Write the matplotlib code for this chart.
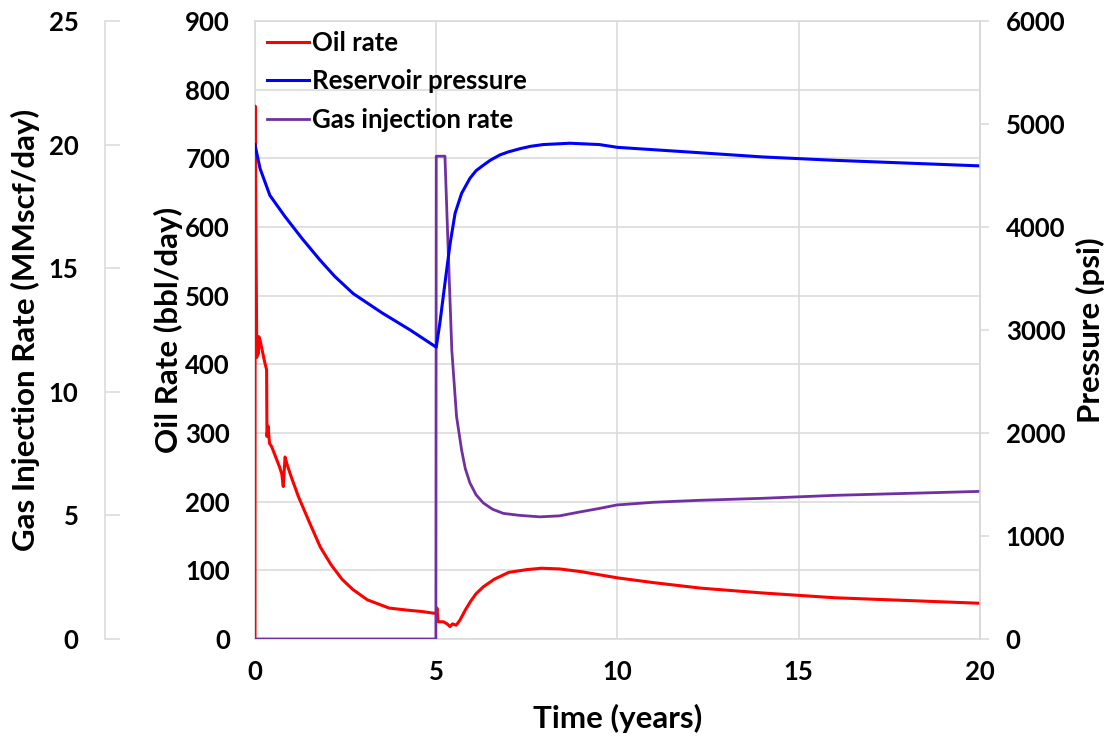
"""
Oil rate, reservoir pressure and gas injection rate vs time (three y-axes).
"""
import numpy as np
import matplotlib
matplotlib.use("Agg")
import matplotlib.pyplot as plt

plt.rcParams['font.family'] = ['Lato', 'DejaVu Sans']
plt.rcParams['font.weight'] = 'bold'

# Oil rate (bbl/day)
t_oil = [0, 0.005, 0.03, 0.05, 0.07, 0.09, 0.11, 0.14, 0.2, 0.26, 0.32, 0.33, 0.36,
         0.40, 0.46, 0.52, 0.6, 0.68, 0.74, 0.78, 0.8, 0.83, 0.88, 1.0, 1.2, 1.5,
         1.8, 2.1, 2.4, 2.7, 3.1, 3.7, 4.2, 4.6, 5.0, 5.02, 5.05, 5.2, 5.3, 5.38,
         5.45, 5.55, 5.66, 5.8, 5.95, 6.1, 6.3, 6.6, 7.0, 7.5, 7.9, 8.4, 9.0, 10.0,
         11.0, 12.3, 14.0, 16.0, 18.0, 20.0]
q_oil = [0, 776, 560, 410, 440, 415, 440, 435, 420, 405, 392, 295, 310,
         285, 280, 272, 261, 250, 240, 222, 240, 265, 255, 236, 207, 170,
         134, 108, 87, 72, 57, 45, 42, 40, 37, 45, 25, 25, 22, 18,
         22, 20, 28, 42, 55, 66, 76, 87, 97, 101, 103, 102, 98, 89,
         82, 74, 67, 60, 56, 52]

# Reservoir pressure (psi)
t_p = [0, 0.03, 0.14, 0.41, 0.83, 1.3, 1.79, 2.2, 2.71, 3.5, 4.28, 5.0, 5.1, 5.24,
       5.38, 5.52, 5.70, 5.93, 6.1, 6.3, 6.5, 6.76, 7.0, 7.31, 7.6, 7.95, 8.69,
       9.5, 10.0, 12.0, 14.0, 16.0, 18.0, 20.0]
p_res = [4800, 4747, 4567, 4307, 4100, 3887, 3680, 3520, 3353, 3167, 3000, 2833,
         3067, 3453, 3833, 4133, 4327, 4473, 4547, 4600, 4650, 4700, 4730, 4760,
         4783, 4800, 4813, 4800, 4773, 4727, 4680, 4647, 4620, 4593]

# Gas injection rate (MMscf/day)
t_gas = [0, 4.99, 5.0, 5.24, 5.33, 5.43, 5.56, 5.70, 5.8, 5.93, 6.1, 6.30, 6.55,
         6.85, 7.3, 7.86, 8.4, 8.97, 9.5, 9.98, 11.0, 12.28, 14.0, 16.0, 18.0, 20.0]
q_gas = [0, 0, 19.53, 19.53, 15.72, 11.67, 9.0, 7.64, 6.9, 6.31, 5.83, 5.5, 5.25,
         5.08, 5.0, 4.94, 4.98, 5.14, 5.28, 5.42, 5.53, 5.61, 5.69, 5.81, 5.89, 5.97]

red, blue, purple = "#FF0000", "#0000FF", "#7030A0"
grey = "#D9D9D9"
fs = 18.5
lfs = 22.5

fig = plt.figure(figsize=(11.15, 7.41), dpi=100)
ax = fig.add_axes([0.2287, 0.1377, 0.6502, 0.834])
ax_gas = ax.twinx()
ax_p = ax.twinx()

l1, = ax.plot(t_oil, q_oil, color=red, lw=2.2, label="Oil rate", zorder=3)
l3, = ax_gas.plot(t_gas, q_gas, color=purple, lw=2.0, label="Gas injection rate")
l2, = ax_p.plot(t_p, p_res, color=blue, lw=2.2, label="Reservoir pressure")

# main axis
ax.set_xlim(0, 20)
ax.set_ylim(0, 900)
ax.set_xticks(np.arange(0, 21, 5))
ax.set_yticks(np.arange(0, 901, 100))
ax.grid(True, color=grey, lw=1.1)
ax.set_axisbelow(True)
ax.tick_params(axis='x', length=0, pad=15, labelsize=fs)
ax.tick_params(axis='y', length=0, pad=18, labelsize=fs)
for s in ax.spines.values():
    s.set_color(grey)
    s.set_linewidth(1.1)
ax.set_xlabel("Time (years)", fontsize=lfs, fontweight='bold')
ax.set_ylabel("Oil Rate (bbl/day)", fontsize=lfs, fontweight='bold')
ax.xaxis.set_label_coords(0.5, -0.128)
ax.xaxis.label.set_va('center')
ax.yaxis.set_label_coords(-0.12, 0.5)
ax.yaxis.label.set_va('center')

# gas axis, offset to the left
ax_gas.set_ylim(0, 25)
ax_gas.set_yticks(np.arange(0, 26, 5))
ax_gas.spines['left'].set_position(('axes', -0.207))
ax_gas.spines['left'].set_visible(True)
ax_gas.spines['left'].set_color(grey)
ax_gas.spines['left'].set_linewidth(1.1)
for k in ['right', 'top', 'bottom']:
    ax_gas.spines[k].set_visible(False)
ax_gas.yaxis.set_ticks_position('left')
ax_gas.yaxis.set_label_position('left')
ax_gas.tick_params(axis='y', direction='in', length=11, width=1.1, color=grey,
                   pad=19, labelsize=fs)
ax_gas.set_ylabel("Gas Injection Rate (MMscf/day)", fontsize=lfs, fontweight='bold')
ax_gas.yaxis.set_label_coords(-0.317, 0.5)
ax_gas.yaxis.label.set_va('center')

# pressure axis
ax_p.set_ylim(0, 6000)
ax_p.set_yticks(np.arange(0, 6001, 1000))
for k in ['left', 'top', 'bottom']:
    ax_p.spines[k].set_visible(False)
ax_p.spines['right'].set_color(grey)
ax_p.spines['right'].set_linewidth(1.1)
ax_p.tick_params(axis='y', direction='out', length=6.5, width=1.1, color=grey,
                 pad=12, labelsize=fs)
ax_p.set_ylabel("Pressure (psi)", fontsize=lfs, fontweight='bold')
ax_p.yaxis.set_label_coords(1.152, 0.5)
ax_p.yaxis.label.set_va('center')

for a in (ax, ax_gas, ax_p):
    for lab in a.get_yticklabels() + a.get_xticklabels():
        lab.set_fontweight('bold')

leg = ax_p.legend([l1, l2, l3], ["Oil rate", "Reservoir pressure", "Gas injection rate"],
                  loc='upper left', bbox_to_anchor=(0.003, 1.0), borderaxespad=0,
                  frameon=False, fontsize=fs, handlelength=1.6, handletextpad=0.15,
                  labelspacing=0.55)
for txt in leg.get_texts():
    txt.set_fontweight('bold')

plt.savefig("out.png", dpi=100)
